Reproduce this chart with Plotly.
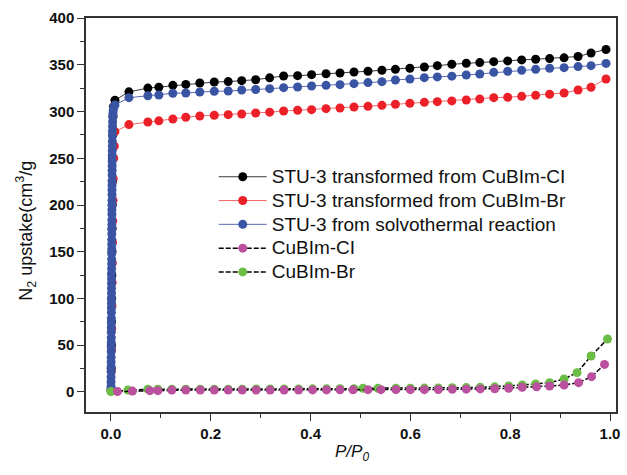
import plotly.graph_objects as go

# ---------------- data ----------------
# common relative pressures of the plateau points
x_hi = [0.008, 0.036, 0.074, 0.096, 0.124, 0.150, 0.178, 0.207, 0.235, 0.262, 0.290, 0.318,
        0.346, 0.374, 0.402, 0.431, 0.459, 0.487, 0.515, 0.543, 0.570, 0.599, 0.628, 0.654,
        0.683, 0.712, 0.739, 0.767, 0.795, 0.823, 0.851, 0.879, 0.908, 0.936, 0.962, 0.992]

# STU-3 transformed from CuBIm-Cl (black)
black_low_x = [0.0003, 0.0006, 0.0009, 0.0012, 0.0015, 0.0018, 0.0021, 0.0024, 0.0027, 0.0030,
               0.0034, 0.0038, 0.0042, 0.0048]
black_low_y = [3, 25, 50, 75, 100, 125, 150, 175, 200, 225, 250, 275, 295, 305]
black_hi_y = [312, 321, 325, 326, 328, 329, 330.5, 331.5, 332, 333, 334, 336,
              338, 338.3, 339.4, 340.4, 341.2, 342.2, 343, 344.1, 345.1, 346.2, 347.6, 349,
              350.5, 351.6, 352.3, 353.3, 354.1, 355.2, 355.9, 356.6, 357.4, 358.8, 362.6, 366.3]

# STU-3 transformed from CuBIm-Br (red)
red_low_x = [0.0004, 0.0008, 0.0012, 0.0016, 0.0020, 0.0024, 0.0028, 0.0032, 0.0036, 0.0040,
             0.0046, 0.0055, 0.0068]
red_low_y = [2, 22, 45, 68, 92, 117, 138, 160, 183, 205, 228, 250, 263]
red_hi_y = [278.4, 286, 288.8, 290, 292, 293.8, 295.2, 296, 296.6, 297.3, 298.4, 299.3,
            300.5, 301.3, 302, 303, 303.7, 304.8, 305.5, 306.6, 307.7, 308.8, 309.8, 310.5,
            311.3, 312.3, 313.4, 314.8, 315.2, 316.2, 317.3, 318.4, 319.8, 323, 325.9, 334.8]

# STU-3 from solvothermal reaction (blue) - dense low-pressure column
blue_low_x = [0.0001, 0.00015, 0.0002, 0.00025, 0.0003, 0.00035, 0.0004, 0.00045, 0.0005,
              0.00055, 0.0006, 0.00065, 0.0007, 0.00075, 0.0008, 0.00085, 0.0009, 0.00095,
              0.0010, 0.00105, 0.0011, 0.00115, 0.0012, 0.00125, 0.0013, 0.00135, 0.0014,
              0.00145, 0.0015, 0.00155, 0.0016, 0.00165, 0.0017, 0.00175, 0.0018, 0.00185,
              0.0019, 0.00195, 0.0020, 0.00205, 0.0021, 0.00215, 0.0022, 0.00225, 0.0023,
              0.00235, 0.0024, 0.00245, 0.0025, 0.0026, 0.0027, 0.0028, 0.0029, 0.0030,
              0.0032, 0.0034, 0.0037, 0.0040, 0.0045, 0.0052]
blue_low_y = [1, 6, 11, 16, 22, 27, 32, 37, 43, 48, 53, 58, 64, 69, 74, 79, 85, 90, 95,
              100, 106, 111, 116, 121, 127, 132, 137, 142, 148, 153, 158, 163, 169, 174,
              179, 184, 190, 195, 200, 205, 211, 216, 221, 226, 232, 237, 242, 247, 253,
              258, 263, 268, 274, 279, 284, 289, 294, 298, 301, 304]
blue_hi_y = [307, 314.8, 316.9, 317.6, 319.5, 319.8, 320.9, 321.6, 321.9, 323, 323.5, 324.4,
             325.5, 326.2, 327.3, 328, 328.7, 329.8, 330.9, 331.9, 333.7, 334.8, 336.2, 337,
             337.8, 339, 340.1, 341.9, 343, 344, 345.1, 346.2, 346.9, 348, 349, 351.4]

# CuBIm-Cl (magenta)
cl_x = [0.013, 0.043, 0.078, 0.094, 0.122, 0.150, 0.179, 0.207, 0.235, 0.263, 0.291, 0.319,
        0.347, 0.376, 0.404, 0.432, 0.459, 0.485, 0.515, 0.541, 0.571, 0.600, 0.628, 0.656,
        0.684, 0.712, 0.740, 0.769, 0.797, 0.824, 0.853, 0.879, 0.908, 0.937, 0.963, 0.989]
cl_y = [0.5, 1, 1.4, 1.4, 2, 2, 2, 2, 2, 2, 2, 2, 2, 2, 2.2, 2.2, 2.3, 2.3, 2.5, 2.5, 2.5,
        2.5, 2.5, 2.7, 2.8, 3, 3.3, 3.5, 4, 5, 5.5, 6.4, 7.5, 10, 16.4, 29.5]

# CuBIm-Br (green)
br_x = [0.0, 0.034, 0.074, 0.094, 0.122, 0.150, 0.179, 0.207, 0.235, 0.263, 0.291, 0.319,
        0.347, 0.376, 0.404, 0.432, 0.459, 0.487, 0.505, 0.535, 0.571, 0.600, 0.628, 0.656,
        0.684, 0.712, 0.740, 0.769, 0.797, 0.824, 0.851, 0.879, 0.908, 0.934, 0.962, 0.995]
br_y = [0.5, 2, 3, 3, 3, 3, 3, 3, 3, 3, 3.2, 3.2, 3.3, 3.3, 3.4, 3.4, 3.5, 3.5, 4, 4, 4,
        4, 4.2, 4.3, 4.5, 4.7, 5, 5.5, 6.5, 7.5, 8.6, 10, 13.9, 20.7, 38.5, 56.7]

x_ticks = [0.0, 0.2, 0.4, 0.6, 0.8, 1.0]
y_ticks = [0, 50, 100, 150, 200, 250, 300, 350, 400]

names = ["STU-3 transformed from CuBIm-CI", "STU-3 transformed from CuBIm-Br",
         "STU-3 from solvothermal reaction", "CuBIm-CI", "CuBIm-Br"]

FONT = "Liberation Sans, Arial, sans-serif"


def big(s):
    return '<span style="font-size:19px">' + s + '</span>'


fig = go.Figure()

fig.add_trace(go.Scatter(x=black_low_x + x_hi, y=black_low_y + black_hi_y, name=big(names[0]),
                         mode="lines+markers", legendrank=1,
                         line=dict(color="#3a3a3a", width=1),
                         marker=dict(color="#000000", size=9)))
fig.add_trace(go.Scatter(x=red_low_x + x_hi, y=red_low_y + red_hi_y, name=big(names[1]),
                         mode="lines+markers", legendrank=2,
                         line=dict(color="#f26a6a", width=1),
                         marker=dict(color="#ec2028", size=9)))
fig.add_trace(go.Scatter(x=blue_low_x + x_hi, y=blue_low_y + blue_hi_y, name=big(names[2]),
                         mode="lines+markers", legendrank=3,
                         line=dict(color="#5868b4", width=1),
                         marker=dict(color="#3a54a4", size=9)))
fig.add_trace(go.Scatter(x=br_x, y=br_y, name=big(names[4]),
                         mode="lines+markers", legendrank=5,
                         line=dict(color="#000000", width=1.5, dash="5px,2px"),
                         marker=dict(color="#6cbd45", size=9)))
fig.add_trace(go.Scatter(x=cl_x, y=cl_y, name=big(names[3]),
                         mode="lines+markers", legendrank=4,
                         line=dict(color="#000000", width=1.5, dash="5px,2px"),
                         marker=dict(color="#bb509f", size=9)))

axis_common = dict(showline=True, linewidth=1.5, linecolor="#333333", mirror=True,
                   showgrid=False, zeroline=False, ticks="outside", ticklen=7,
                   tickwidth=1.3, tickcolor="#333333",
                   tickfont=dict(family=FONT, size=15, color="#111111", weight="bold"))

fig.update_xaxes(range=[-0.05, 1.012], tickvals=x_ticks, tickformat=".1f",
                 minor=dict(dtick=0.1, tick0=0, ticks="outside", ticklen=4,
                            tickwidth=1.2, tickcolor="#333333"),
                 **axis_common)
fig.update_yaxes(range=[-21.4, 400], tickvals=y_ticks,
                 minor=dict(dtick=25, tick0=0, ticks="outside", ticklen=4,
                            tickwidth=1.2, tickcolor="#333333"),
                 **axis_common)

fig.update_layout(
    width=627, height=475,
    margin=dict(l=86, r=7, t=18, b=63),
    plot_bgcolor="white", paper_bgcolor="white",
    font=dict(family=FONT, color="#111111"),
    legend=dict(x=0.241, y=0.640, xanchor="left", yanchor="top",
                bgcolor="rgba(0,0,0,0)", borderwidth=0,
                font=dict(family=FONT, size=16, color="#111111"),
                itemwidth=48),
    annotations=[
        dict(text="N<sub>2</sub> upstake(cm<sup>3</sup>/g", textangle=-90,
             xref="paper", yref="paper", x=-0.114, y=0.459,
             xanchor="center", yanchor="middle", showarrow=False,
             font=dict(family=FONT, size=18, color="#111111")),
        dict(text="<i>P/P<sub>0</sub></i>",
             xref="paper", yref="paper", x=0.502, y=-0.071,
             xanchor="center", yanchor="top", showarrow=False,
             font=dict(family=FONT, size=17, color="#111111")),
    ],
)

fig.write_html("out.html", config={"displayModeBar": False},
               post_script="document.body.style.margin='0';document.body.style.overflow='hidden';")
